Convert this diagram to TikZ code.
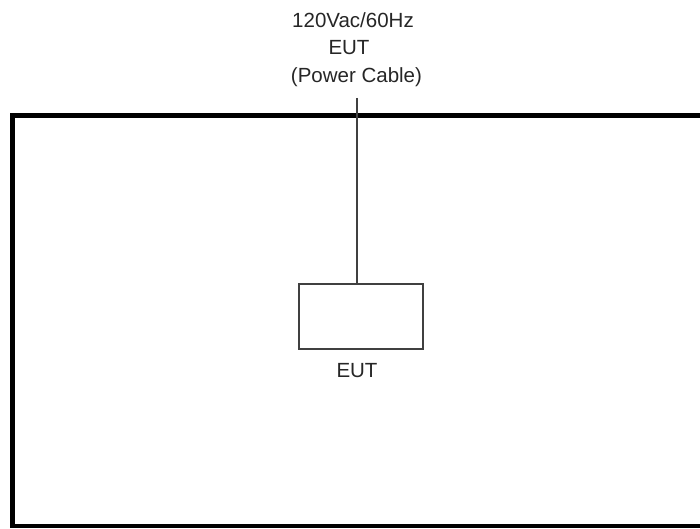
\documentclass[tikz,border=0pt]{standalone}
\usepackage{fontspec}
\setmainfont{Liberation Sans}
\begin{document}
\begin{tikzpicture}[x=1pt,y=-1pt,
  lbl/.style={anchor=base,inner sep=0pt,text=black!85,font=\fontsize{20.5}{24}\selectfont},
  eutbox/.style={draw=black!75,line width=2.2pt,minimum width=124pt,minimum height=65pt,inner sep=0pt},
  cable/.style={draw=black!75,line width=2.2pt},
  room/.style={draw=black,line width=4.5pt}]
\useasboundingbox (0,0) rectangle (700,529);
\clip (0,0) rectangle (700,529);
\draw[room] (720,115.5) -- (12.5,115.5) -- (12.5,526) -- (720,526);
\node[lbl] (l1) at (353,28) {120Vac/60Hz};
\node[lbl] (l2) at (349,55) {EUT};
\node[lbl] (l3) at (356.5,83) {(Power Cable)};
\node[eutbox] (eut) at (361,316.5) {};
\node[lbl] (eutl) at (357,377) {EUT};
\coordinate (top) at (357,98);
\draw[cable] (top) -- (top |- eut.north);
\end{tikzpicture}
\end{document}
